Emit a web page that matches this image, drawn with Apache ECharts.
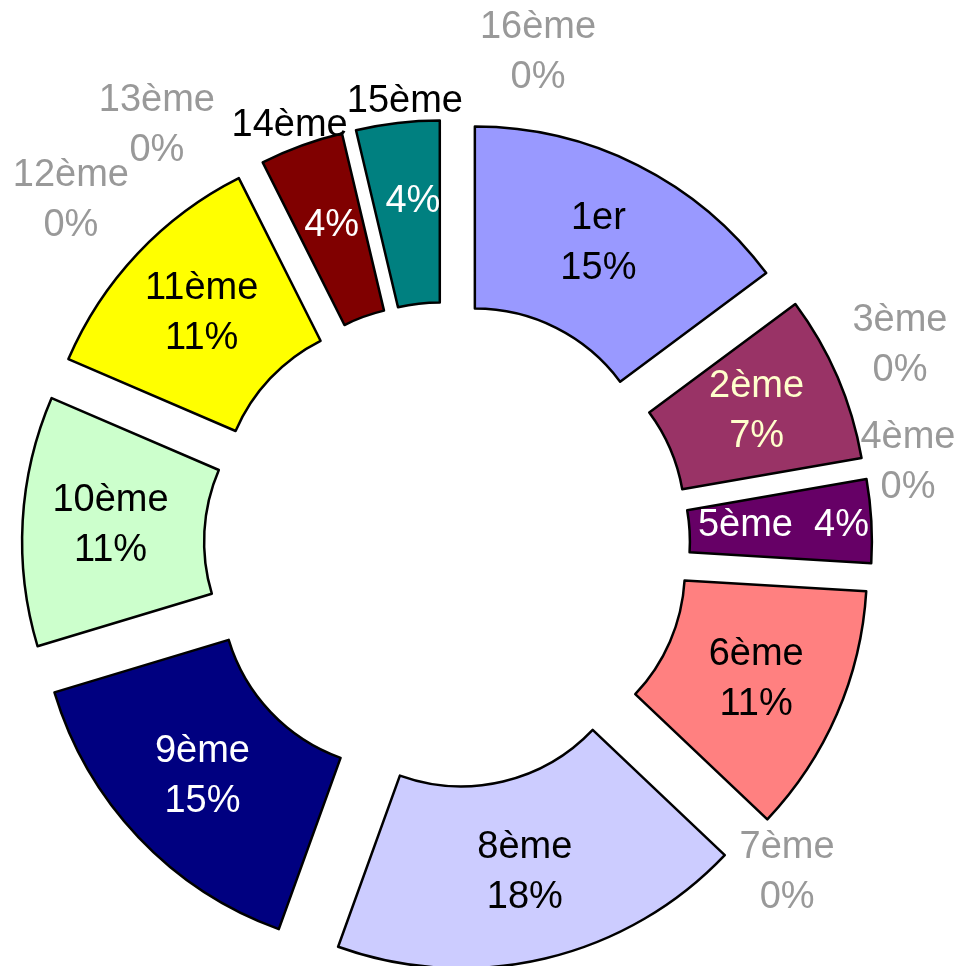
<!DOCTYPE html>
<html>
<head>
<meta charset="utf-8">
<script src="https://cdn.jsdelivr.net/npm/echarts@6/dist/echarts.min.js"></script>
<style>
html,body{margin:0;padding:0;background:#fff}
#chart{width:960px;height:966px}
</style>
</head>
<body>
<div id="chart"></div>
<script>
// places (1er .. 16ème) and their share in percent (estimated from slice sizes + printed labels)
var categories = ['1er','2ème','3ème','4ème','5ème','6ème','7ème','8ème',
                  '9ème','10ème','11ème','12ème','13ème','14ème','15ème','16ème']
var shares = [14.8,7.4,0,0,3.7,11.1,0,18.4,14.8,11.1,11.1,0,0,3.7,3.7,0]

var sliceColors = ['#9999FF','#993366','#FFFFCC','#CCFFFF','#660066','#FF8080','#0066CC','#CCCCFF',
                   '#000080','#CCFFCC','#FFFF00','#00CCFF','#CCFFFF','#800000','#008080','#0000FF']
var textColors = ['#000','#FFFFCC','#999','#999','#fff','#000','#999','#000',
                  '#fff','#000','#000','#999','#999','#fff','#fff','#999']

var font = 'Liberation Sans, Arial, sans-serif'
var fs = 38
var cx = 447, cy = 545, rIn = 181, rOut = 363, explode = 62
// empty slices: label sits outside the ring, nudged apart like excel spreads them
var zeroLabelDist = 470
var zeroNudge = {'3ème':[-10,-119],'4ème':[-2,-2],'7ème':[-1,4],'12ème':[-165,75],'13ème':[-79,0],'16ème':[91,-22]}

var total = shares.reduce(function(a,b){ return a + b }, 0)
function pct(v){ return Math.round(v / total * 100) + '%' }

function labelFor(i){
  var name = categories[i]
  if(shares[i] === 0){
    return {
      position:'outside',
      color:textColors[i],
      formatter:function(p){ return p.name + '\n' + pct(p.value) }
    }
  }
  if(name === '5ème'){
    return {
      position:'inside',
      color:textColors[i],
      formatter:function(p){ return p.name + '  ' + pct(p.value) }
    }
  }
  if(name === '14ème' || name === '15ème'){
    // name sits above the slice, percentage stays inside
    var is14 = name === '14ème'
    return {
      position:'inside',
      formatter:function(p){ return '{n|' + p.name + '}\n{g| }\n{p|' + pct(p.value) + '}\n{g| }\n{f| }' },
      rich:{
        n:{color:'#000',fontSize:fs,lineHeight:50,fontFamily:font,padding:is14 ? [0,84,0,0] : [0,6,0,0]},
        p:{color:textColors[i],fontSize:fs,lineHeight:50,fontFamily:font,padding:is14 ? [0,0,0,0] : [0,0,0,10]},
        g:{fontSize:10,lineHeight:50},
        f:{fontSize:10,lineHeight:is14 ? 56 : 68}
      }
    }
  }
  return {
    position:'inside',
    color:textColors[i],
    formatter:function(p){ return p.name + '\n' + pct(p.value) }
  }
}

var pieData = categories.map(function(c, i){
  var empty = shares[i] === 0
  return {
    name:c,
    value:shares[i],
    selected:!empty,
    itemStyle:{color:sliceColors[i], borderWidth:empty ? 0 : 2.5},
    label:labelFor(i),
    labelLine:{show:false}
  }
})

function zeroLabelLayout(params){
  var i = params.dataIndex
  if(shares[i] !== 0) return {hideOverlap:false}
  var before = 0
  for(var k = 0; k < i; k++) before += shares[k]
  var a = before / total * Math.PI * 2
  var nudge = zeroNudge[categories[i]] || [0,0]
  return {
    x:cx + zeroLabelDist * Math.sin(a) + nudge[0],
    y:cy - zeroLabelDist * Math.cos(a) + nudge[1],
    align:'center',
    verticalAlign:'middle',
    hideOverlap:false
  }
}

var chart = echarts.init(document.getElementById('chart'))
chart.setOption({
  animation:false,
  backgroundColor:'#fff',
  series:[{
    type:'pie',
    center:[cx,cy],
    radius:[rIn,rOut],
    startAngle:90,
    clockwise:true,
    selectedMode:'multiple',
    selectedOffset:explode,
    avoidLabelOverlap:false,
    stillShowZeroSum:true,
    minShowLabelAngle:0,
    itemStyle:{borderColor:'#000',borderWidth:2.5},
    label:{
      fontFamily:font,
      fontSize:fs,
      lineHeight:50,
      overflow:'none'
    },
    labelLine:{show:false,length:8,length2:0},
    labelLayout:zeroLabelLayout,
    emphasis:{disabled:true},
    data:pieData
  }]
})
</script>
</body>
</html>
